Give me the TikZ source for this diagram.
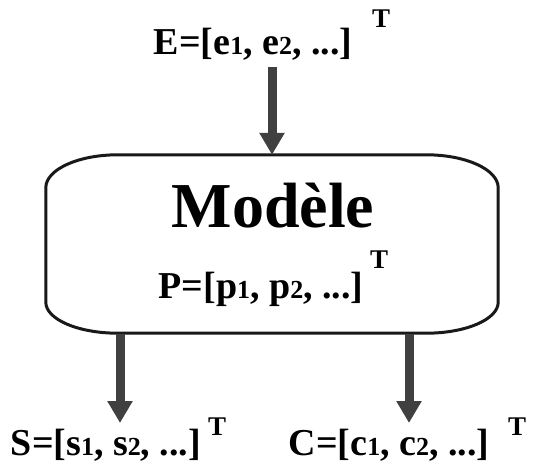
\documentclass[tikz,border=0pt]{standalone}
\usepackage{fontspec}
\setmainfont{Liberation Serif}
\usetikzlibrary{arrows.meta}
\newcommand{\idx}[1]{{\fontsize{26}{26}\selectfont #1}}

\begin{document}
\begin{tikzpicture}[x=1pt,y=1pt,
  lbl/.style={inner sep=0pt,anchor=base,font=\fontsize{38}{40}\bfseries},
  tsup/.style={inner sep=0pt,anchor=base west,font=\fontsize{27}{28}\bfseries},
  flow/.style={draw=black!75,line width=9pt,-{Triangle[length=22pt,width=24pt]}},
  boxline/.style={line width=3pt,black!90}]
\useasboundingbox (0,0) rectangle (540,464);
% inputs
\node[lbl] (elabel) at (253,409) {E=[e\idx{1}, e\idx{2}, ...]};
\node[tsup] (etsup) at (372,436) {T};
% model
\node[inner sep=0pt,minimum width=452,minimum height=178] (box) at (272,220) {};
\draw[boxline] ([xshift=72]box.north west) -- ([xshift=-72]box.north east)
  arc[start angle=90,end angle=0,x radius=72,y radius=33]
  -- ([yshift=31]box.south east)
  arc[start angle=0,end angle=-90,x radius=72,y radius=31]
  -- ([xshift=72]box.south west)
  arc[start angle=270,end angle=180,x radius=72,y radius=31]
  -- ([yshift=-33]box.north west)
  arc[start angle=180,end angle=90,x radius=72,y radius=33] -- cycle;
\node[lbl,font=\fontsize{64}{66}\bfseries] (title) at (273,237) {Modèle};
\node[lbl] (plabel) at (261,166) {P=[p\idx{1}, p\idx{2}, ...]};
\node[tsup] (ptsup) at (370,196) {T};
% outputs
\node[lbl] (slabel) at (106,9) {S=[s\idx{1}, s\idx{2}, ...]};
\node[tsup] (stsup) at (208,29) {T};
\node[lbl] (clabel) at (389,9) {C=[c\idx{1}, c\idx{2}, ...]};
\node[tsup] (ctsup) at (508,29) {T};
% arrows
\coordinate (ein) at (272,397);
\coordinate (sout) at (120,41);
\coordinate (cout) at (409,41);
\draw[flow] (ein) -- (ein |- box.north);
\draw[flow] ([yshift=-1]box.south -| sout) -- (sout);
\draw[flow] ([yshift=-1]box.south -| cout) -- (cout);
\end{tikzpicture}
\end{document}
